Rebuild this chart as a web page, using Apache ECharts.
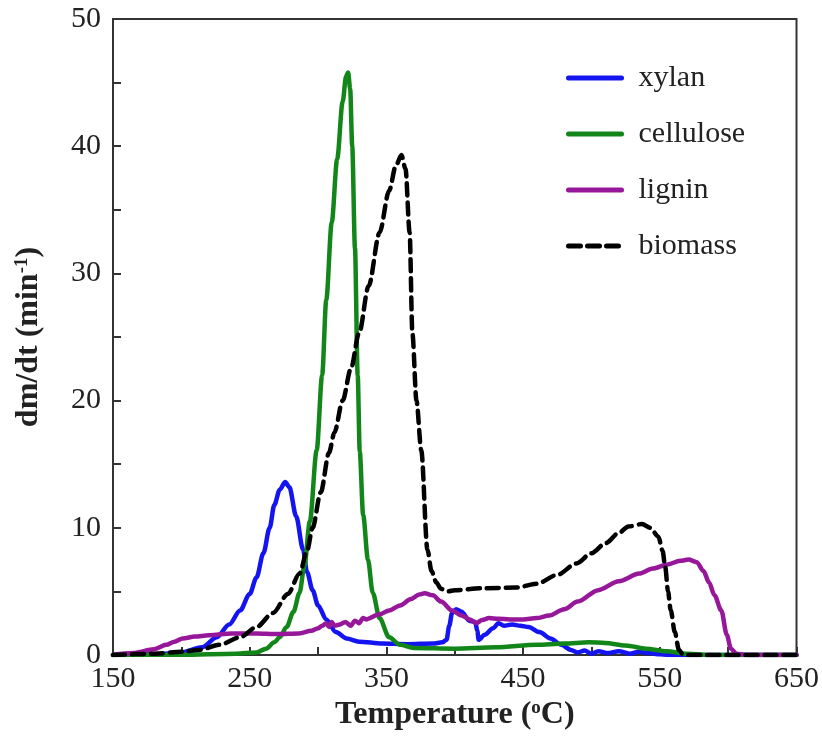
<!DOCTYPE html>
<html>
<head>
<meta charset="utf-8">
<script src="https://cdn.jsdelivr.net/npm/echarts@6/dist/echarts.min.js"></script>
<style>html,body{margin:0;padding:0;background:#fff;}#c{width:822px;height:741px;}</style>
</head>
<body>
<div id="c"></div>
<script>
// X tick labels shown (every 100 from 150)
var xTickLabels = [150, 250, 350, 450, 550, 650];
var yTickLabels = [0, 10, 20, 30, 40, 50];

var xylanT = [150,180,200,215,226,235,243,250,255,260,264.6,268,272,276,279,284,289,292,296,300,306,313,321,330,347,365,384,391,394,396,398,401,405,410.6,415,416.5,417.5,422,428,432,436,442,448,454,462,470,478,485,490,495,500,505,512,520,528,535,542,550,560,650];
var xylanY = [0,0.05,0.2,0.6,1.4,2.4,3.5,4.8,6.1,8.0,10,11.8,13,13.6,13.2,10.9,8.3,6.5,5.1,3.9,2.8,1.8,1.3,1.05,0.9,0.85,0.9,1.0,1.2,2.3,3.3,3.6,3.4,2.7,2.6,1.9,1.2,1.6,2.1,2.5,2.3,2.4,2.3,2.2,1.8,1.3,0.8,0.4,0.2,0.35,0.1,0.3,0.15,0.3,0.1,0.25,0.15,0.05,0,0];

var celluloseT = [150,200,240,255,262,268,272,277,282,286.5,290,294,299,303,306,310,314,318,320.5,322,323.5,325,327,329,330.5,333,336.5,340,345,352,360,370,400,430,460,480,498,510,525,540,555,570,585,650];
var celluloseY = [0,0.02,0.1,0.2,0.5,1.0,1.4,2.2,3.4,4.9,7,10.5,16.1,22,27.9,34,39,43.5,45.5,45.8,44.5,40,32,22,16,11,7.5,4.9,2.9,1.4,0.8,0.55,0.5,0.6,0.8,0.9,1.0,0.95,0.75,0.5,0.3,0.1,0,0];

var ligninT = [150,165,180,189,195,201,210,220,237,255,270,286,295,300,303,306,308,310,312,316,320,324,327,330,333,335,345,352,360,368,374,378,384,390,398,405,411,415.7,420,425,432,440,450,460,469,480,490,505,520,535,545,555,565,571,577,582,586,590,595,599,602,606,615,650];
var ligninY = [0,0.15,0.45,0.8,1.05,1.3,1.45,1.55,1.7,1.7,1.65,1.7,1.9,2.1,2.3,2.5,2.2,2.6,2.3,2.4,2.6,2.3,2.7,2.5,2.9,2.8,3.2,3.5,3.9,4.4,4.75,4.85,4.7,4.2,3.5,3.1,2.8,2.5,2.75,2.9,2.85,2.8,2.8,2.9,3.1,3.6,4.2,5.1,5.8,6.4,6.8,7.1,7.4,7.5,7.3,6.6,5.7,4.7,3.5,1.6,0.5,0.1,0,0];

var biomassT = [150,180,200,213,228,243,255,267,278,286.5,292,296,302,308,312,318,324,330,337,345,352,357,361,364,367,369,372,375.5,380,383,386.5,390,395,400,420,445,460,475,489,500,510.5,520,527,537,543,549,552,554,556,558,561,564,567,570,650];
var biomassY = [0,0.1,0.25,0.4,0.8,1.4,2.2,3.3,4.8,6.4,8.2,10,12.8,15.9,17.5,20,22.5,25.3,29,33.2,36.5,38.5,39.3,38.2,33.2,25.3,20,16.1,8.3,6.6,5.7,5.2,5.0,5.1,5.25,5.3,5.6,6.3,7.2,8,8.8,9.6,10.1,10.3,10.0,9.3,8.2,6.9,5.0,3.5,1.8,0.4,0.05,0,0];

function pairs(t, y) { return t.map(function (v, i) { return [v, y[i]]; }); }

var FONT = 'Liberation Serif';
var chart = echarts.init(document.getElementById('c'), null, {renderer: 'canvas'});

function mkSeries(name, t, y, color, type) {
  return {
    name: name, type: 'line', data: pairs(t, y),
    showSymbol: false, symbol: 'none',
    smooth: 0.3, smoothMonotone: 'x',
    lineStyle: {color: color, width: 4.5, type: type || 'solid', cap: 'round', join: 'round'},
    itemStyle: {color: color},
    emphasis: {disabled: true},
    animation: false
  };
}

chart.setOption({
  animation: false,
  backgroundColor: '#fff',
  grid: {left: 113, right: 24, top: 19, bottom: 86, show: true, borderColor: '#333', borderWidth: 2, backgroundColor: 'transparent'},
  legend: {
    orient: 'vertical', left: 561, top: 58, itemWidth: 53, itemHeight: 14, itemGap: 26,
    itemStyle: {opacity: 0},
    lineStyle: {width: 5},
    textStyle: {fontFamily: FONT, fontSize: 30, color: '#222', padding: [0, 0, 0, 12]},
    data: ['xylan', 'cellulose', 'lignin', 'biomass']
  },
  xAxis: {
    type: 'value', min: 150, max: 650, interval: 50,
    axisLine: {show: true, lineStyle: {color: '#333', width: 2}},
    axisTick: {show: true, inside: true, length: 8, lineStyle: {color: '#333', width: 2}},
    splitLine: {show: false},
    axisLabel: {
      fontFamily: FONT, fontSize: 30, color: '#222', margin: 9,
      formatter: function (v) { return xTickLabels.indexOf(v) >= 0 ? String(v) : ''; }
    },
    name: '{a|Temperature (}{s|o}{a|C)}', nameLocation: 'middle', nameGap: 33,
    nameTextStyle: {
      rich: {
        a: {fontFamily: FONT, fontSize: 32, fontWeight: 'bold', color: '#222'},
        s: {fontFamily: FONT, fontSize: 19, fontWeight: 'bold', color: '#222', verticalAlign: 'top', padding: [0, 0, 12, 0]}
      }
    }
  },
  yAxis: {
    type: 'value', min: 0, max: 50, interval: 5,
    axisLine: {show: true, lineStyle: {color: '#333', width: 2}},
    axisTick: {show: true, inside: true, length: 8, lineStyle: {color: '#333', width: 2}},
    splitLine: {show: false},
    axisLabel: {
      fontFamily: FONT, fontSize: 30, color: '#222', margin: 12,
      formatter: function (v) { return yTickLabels.indexOf(v) >= 0 ? String(v) : ''; }
    },
    name: '{a|dm/dt (min}{s|-1}{a|)}', nameLocation: 'middle', nameGap: 68, nameRotate: 90,
    nameTextStyle: {
      rich: {
        a: {fontFamily: FONT, fontSize: 32, fontWeight: 'bold', color: '#222'},
        s: {fontFamily: FONT, fontSize: 19, fontWeight: 'bold', color: '#222', verticalAlign: 'top', padding: [0, 0, 12, 0]}
      }
    }
  },
  series: [
    mkSeries('xylan', xylanT, xylanY, '#1414f0'),
    mkSeries('cellulose', celluloseT, celluloseY, '#13861a'),
    mkSeries('lignin', ligninT, ligninY, '#97179a'),
    mkSeries('biomass', biomassT, biomassY, '#000000', [12, 7])
  ]
});
</script>
</body>
</html>
